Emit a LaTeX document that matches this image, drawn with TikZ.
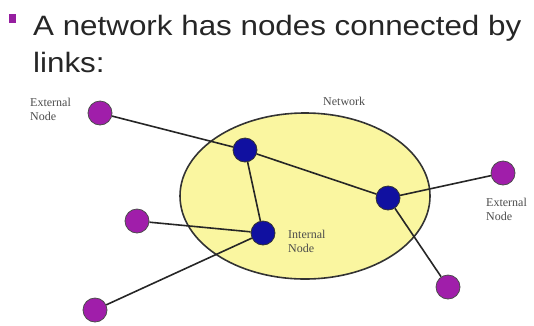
\documentclass[tikz,border=0pt]{standalone}
\usepackage{fontspec}
\usetikzlibrary{shapes.geometric,backgrounds}
\setmainfont{Liberation Serif}
\newfontfamily\titlefont[FakeStretch=1.12]{Liberation Sans}
\definecolor{netyellow}{RGB}{250,246,160}
\definecolor{intblue}{RGB}{16,16,160}
\definecolor{extpurple}{RGB}{160,30,170}
\definecolor{bulletpurple}{RGB}{150,30,160}
\begin{document}
\begin{tikzpicture}
[x=1pt,y=-1pt,
  intdecorate/.style={shape=circle,minimum size=24pt,inner sep=0pt,draw=black!80,fill=intblue,thick},%
  extdecorate/.style={shape=circle,minimum size=24pt,inner sep=0pt,draw=black!70,fill=extpurple,thick},%
  linedecorate/.style={-,line width=1.6pt,black!85},%
  titledecorate/.style={anchor=base west,inner sep=0pt,font=\titlefont\fontsize{28}{37}\selectfont,text=black!85},%
  labeldecorate/.style={font=\fontsize{12}{14}\selectfont,text=black!70,align=left,inner sep=0pt}]
\useasboundingbox (0,0) rectangle (534,325);
%% title
\fill[bulletpurple] (9,14) rectangle (16,23);
\node (title1) [titledecorate] at (33,35) {A network has nodes connected by};
\node (title2) [titledecorate] at (33,72) {links:};
%% nodes or vertices
\foreach \nodename/\x/\y in {a/245/150, b/263/233, c/388/198}
{
  \node (\nodename) at (\x,\y) [intdecorate] {};
}
\foreach \nodename/\x/\y in {e1/100/113, e2/137/221, e3/95/310,
  e4/503/173, e5/448/287}
{
  \node (\nodename) at (\x,\y) [extdecorate] {};
}
%% network area and edges or lines
\begin{pgfonlayer}{background}
\node (net) [ellipse,minimum width=250pt,minimum height=166pt,draw=black!80,
  line width=1.6pt,fill=netyellow] at (305,196) {};
\path
\foreach \startnode/\endnode in {e1/a, a/c, a/b, e2/b, e3/b, c/e4, c/e5}
{
  (\startnode) edge[linedecorate] node {} (\endnode)
};
\end{pgfonlayer}
%% labels
\node (lext1) [labeldecorate,anchor=north west] at (30,98) {External\\Node};
\node (lnet) [labeldecorate,anchor=north west] at (323,97) {Network};
\node (lext2) [labeldecorate,anchor=north west] at (486,198) {External\\Node};
\node (lint) [labeldecorate,anchor=north west] at (288,230) {Internal\\Node};
\end{tikzpicture}
\end{document}
